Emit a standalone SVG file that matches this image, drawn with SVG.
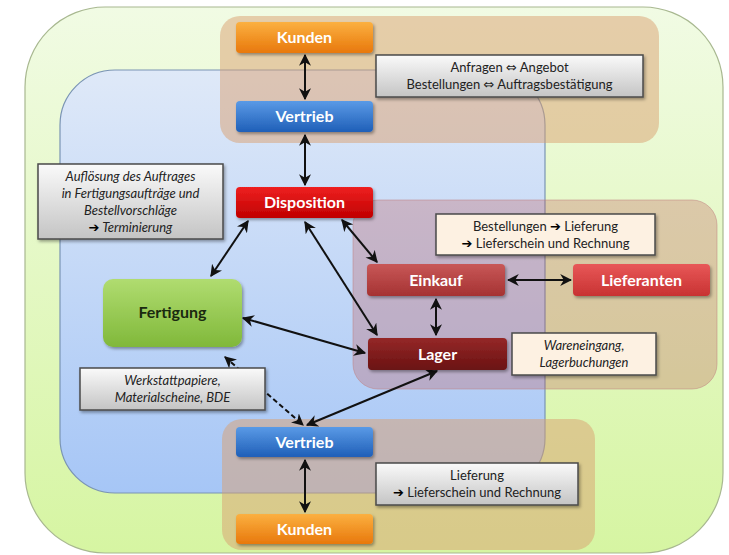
<svg xmlns="http://www.w3.org/2000/svg" width="729" height="555" viewBox="0 0 729 555">
<defs>
<linearGradient id="gGreenBg" x1="0" y1="0" x2="0" y2="1"><stop offset="0" stop-color="#f1fbe4"/><stop offset="1" stop-color="#d6f5a2"/></linearGradient>
<linearGradient id="gBlueBg" x1="0" y1="0" x2="0" y2="1"><stop offset="0" stop-color="#dfe9f8"/><stop offset="1" stop-color="#a6c6f6"/></linearGradient>
<linearGradient id="gOrange" x1="0" y1="0" x2="0" y2="1"><stop offset="0" stop-color="#fbb040"/><stop offset="1" stop-color="#e8780c"/></linearGradient>
<linearGradient id="gBlue" x1="0" y1="0" x2="0" y2="1"><stop offset="0" stop-color="#5a9ae6"/><stop offset="1" stop-color="#1f5fb8"/></linearGradient>
<linearGradient id="gRed" x1="0" y1="0" x2="0" y2="1"><stop offset="0" stop-color="#ee2020"/><stop offset="1" stop-color="#c00000"/></linearGradient>
<linearGradient id="gEinkauf" x1="0" y1="0" x2="0" y2="1"><stop offset="0" stop-color="#c85858"/><stop offset="1" stop-color="#a53232"/></linearGradient>
<linearGradient id="gLief" x1="0" y1="0" x2="0" y2="1"><stop offset="0" stop-color="#e85858"/><stop offset="1" stop-color="#c83232"/></linearGradient>
<linearGradient id="gLager" x1="0" y1="0" x2="0" y2="1"><stop offset="0" stop-color="#952828"/><stop offset="1" stop-color="#6a1212"/></linearGradient>
<linearGradient id="gGreen" x1="0" y1="0" x2="0" y2="1"><stop offset="0" stop-color="#b0dc70"/><stop offset="1" stop-color="#80b83a"/></linearGradient>
<linearGradient id="gGray" x1="0" y1="0" x2="0" y2="1"><stop offset="0" stop-color="#fafafa"/><stop offset="1" stop-color="#c4c4c4"/></linearGradient>
<filter id="sh" x="-10%" y="-20%" width="125%" height="150%"><feDropShadow dx="1.5" dy="2" stdDeviation="1.5" flood-color="#000" flood-opacity="0.35"/></filter>
<marker id="ah" viewBox="0 0 10 10" refX="9" refY="5" markerWidth="6" markerHeight="6" orient="auto-start-reverse" markerUnits="strokeWidth"><path d="M0,0 L10,5 L0,10 L3,5 z" fill="#111"/></marker>
<style>
.node rect{filter:url(#sh)}
.lbl{font-family:Lato,"Open Sans","DejaVu Sans",sans-serif;font-weight:bold;font-size:16px;fill:#fff;text-anchor:middle}
.note{font-family:Lato,"Open Sans","DejaVu Sans",sans-serif;font-size:13px;fill:#222;text-anchor:middle}
.it{font-style:italic}
.ar{font-family:"DejaVu Sans",sans-serif;font-weight:bold;font-style:normal;fill:#000}
.gbox{fill:url(#gGray);stroke:#4a4a4a;stroke-width:1.5}
.pbox{fill:#fdf1e2;stroke:#4a4a4a;stroke-width:1.5}
.con path{fill:none;stroke:#111;stroke-width:2;marker-start:url(#ah);marker-end:url(#ah)}
.tan{fill:#d9a070;fill-opacity:0.5}
</style>
</defs>

<g id="areas">
<rect x="25" y="7" width="698" height="546" rx="80" fill="url(#gGreenBg)" stroke="#a8b890" stroke-width="1.2"/>
<rect x="60" y="70" width="485" height="423" rx="55" fill="url(#gBlueBg)" stroke="#7a94b4" stroke-width="1.2"/>
<rect class="tan" x="220" y="16" width="439" height="127" rx="20"/>
<rect class="tan" x="222" y="419" width="373" height="131" rx="20"/>
<rect x="353" y="200" width="364" height="189" rx="25" fill="#c05858" fill-opacity="0.3" stroke="#c08080" stroke-opacity="0.5"/>
</g>

<g id="connectors" class="con">
<path d="M305,55 L305,99"/>
<path d="M305,135 L305,185"/>
<path d="M248,221 L211,276"/>
<path d="M305,222 L377,335"/>
<path d="M342,220 L377,262"/>
<path d="M243,318 L365,353"/>
<path d="M508,280 L571,280"/>
<path d="M436,299 L436,335"/>
<path d="M437,371 L307,425"/>
<path d="M225,357 L303,425" stroke-dasharray="5,3"/>
<path d="M305,460 L305,512"/>
</g>

<g id="kunden-top" class="node"><rect x="236" y="22" width="137" height="31" rx="4" fill="url(#gOrange)"/><text class="lbl" x="304.5" y="43">Kunden</text></g>
<g id="vertrieb-top" class="node"><rect x="236" y="101" width="137" height="31" rx="4" fill="url(#gBlue)"/><text class="lbl" x="304.5" y="122">Vertrieb</text></g>
<g id="note-anfragen"><rect class="gbox" x="376" y="55" width="267" height="42" filter="url(#sh)"/><text class="note" x="509.5" y="72">Anfragen ⇔ Angebot</text><text class="note" x="509.5" y="89">Bestellungen ⇔ Auftragsbestätigung</text></g>
<g id="disposition" class="node"><rect x="236" y="187" width="137" height="31" rx="4" fill="url(#gRed)"/><text class="lbl" x="304.5" y="208">Disposition</text></g>
<g id="note-aufloesung"><rect class="gbox" x="38" y="164" width="185" height="75" filter="url(#sh)"/><text class="note it" x="130.5" y="181">Auflösung des Auftrages</text><text class="note it" x="130.5" y="198">in Fertigungsaufträge und</text><text class="note it" x="130.5" y="215">Bestellvorschläge</text><text class="note" x="130.5" y="232"><tspan class="ar">➔</tspan><tspan font-style="italic"> Terminierung</tspan></text></g>
<g id="fertigung" class="node"><rect x="103" y="279" width="139" height="68" rx="10" fill="url(#gGreen)"/><text class="lbl" x="172.5" y="318" style="fill:#1a2a10">Fertigung</text></g>
<g id="note-bestellungen"><rect class="pbox" x="436" y="214" width="219" height="41" filter="url(#sh)"/><text class="note" x="545.5" y="231">Bestellungen <tspan class="ar">➔</tspan> Lieferung</text><text class="note" x="545.5" y="248"><tspan class="ar">➔</tspan> Lieferschein und Rechnung</text></g>
<g id="einkauf" class="node"><rect x="367" y="264" width="138" height="32" rx="4" fill="url(#gEinkauf)"/><text class="lbl" x="436" y="285.5">Einkauf</text></g>
<g id="lieferanten" class="node"><rect x="573" y="264" width="137" height="32" rx="4" fill="url(#gLief)"/><text class="lbl" x="641.5" y="285.5">Lieferanten</text></g>
<g id="lager" class="node"><rect x="368" y="338" width="139" height="32" rx="4" fill="url(#gLager)"/><text class="lbl" x="437.5" y="359.5">Lager</text></g>
<g id="note-wareneingang"><rect class="pbox" x="512" y="333" width="144" height="42" filter="url(#sh)"/><text class="note it" x="584" y="350">Wareneingang,</text><text class="note it" x="584" y="367">Lagerbuchungen</text></g>
<g id="note-werkstatt"><rect class="gbox" x="80" y="368" width="185" height="42" filter="url(#sh)"/><text class="note it" x="172.5" y="385">Werkstattpapiere,</text><text class="note it" x="172.5" y="402">Materialscheine, BDE</text></g>
<g id="vertrieb-bottom" class="node"><rect x="236" y="427" width="137" height="30" rx="4" fill="url(#gBlue)"/><text class="lbl" x="304.5" y="447.5">Vertrieb</text></g>
<g id="note-lieferung"><rect class="gbox" x="376" y="463" width="202" height="42" filter="url(#sh)"/><text class="note" x="477" y="480">Lieferung</text><text class="note" x="477" y="497"><tspan class="ar">➔</tspan> Lieferschein und Rechnung</text></g>
<g id="kunden-bottom" class="node"><rect x="236" y="514" width="137" height="30" rx="4" fill="url(#gOrange)"/><text class="lbl" x="304.5" y="534.5">Kunden</text></g>
</svg>
